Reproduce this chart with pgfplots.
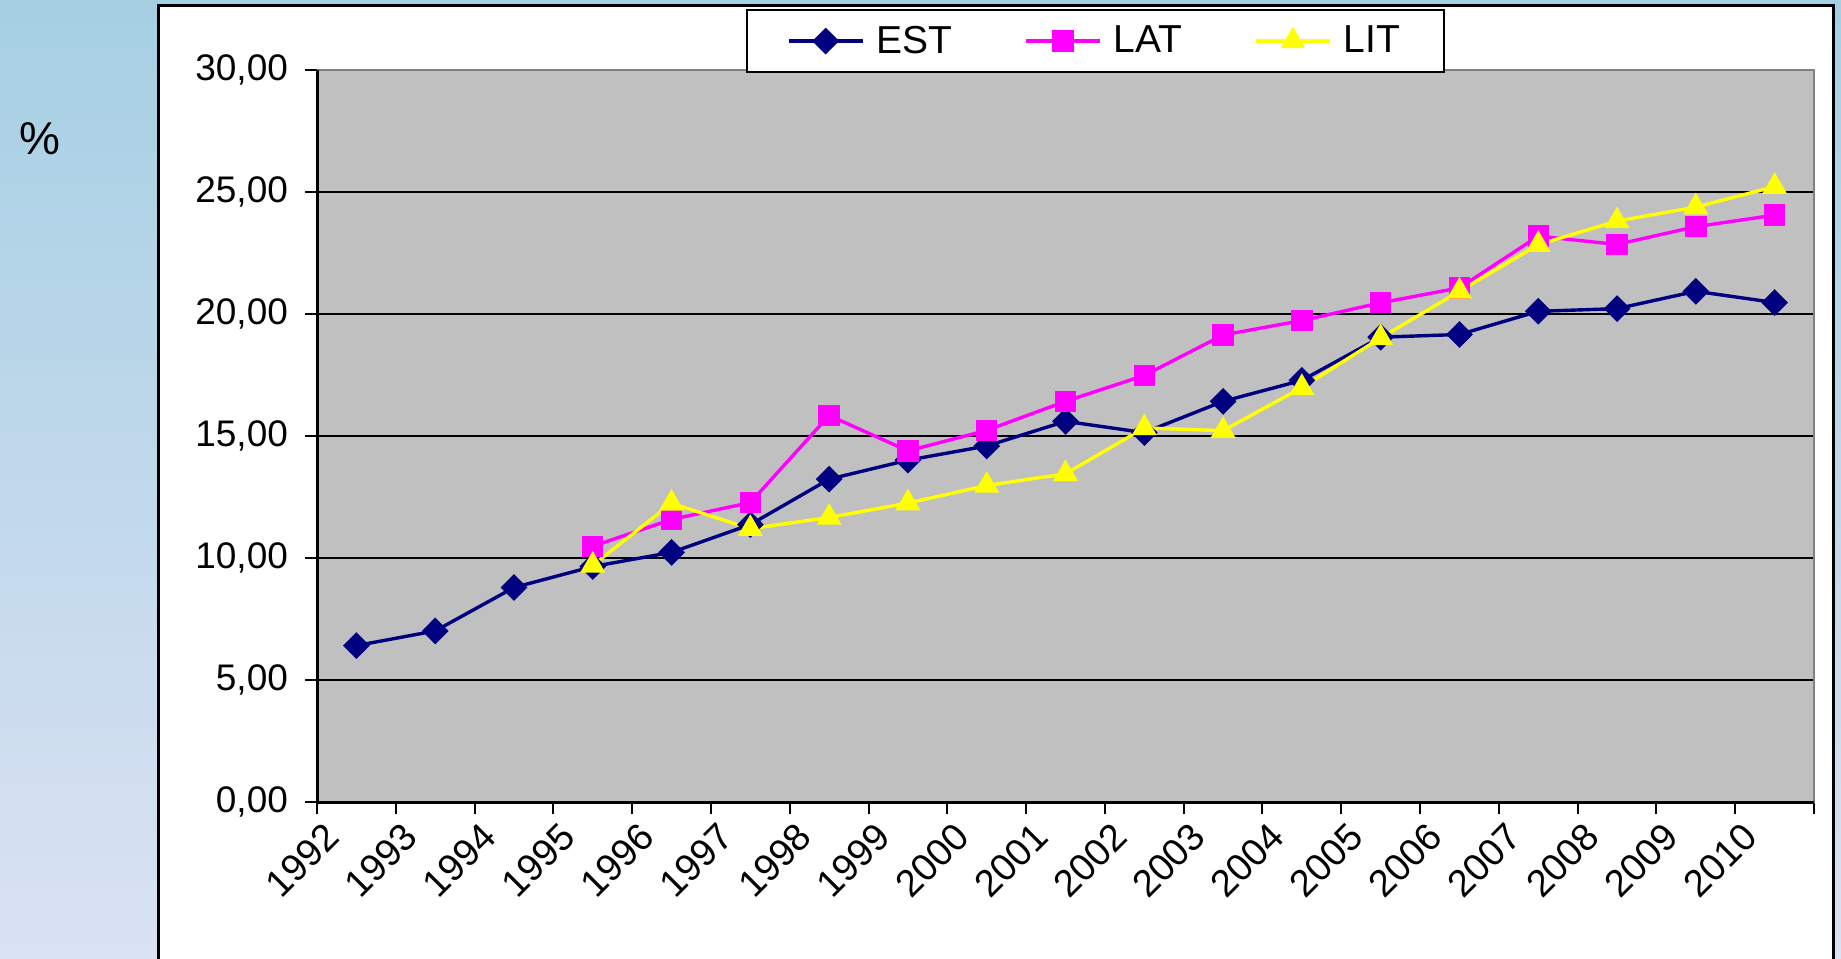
\documentclass[border=0pt]{standalone}
\usepackage{fontspec}
\setmainfont{Liberation Sans}
\usepackage{pgfplots}
\pgfplotsset{compat=1.18}
\definecolor{estblue}{HTML}{000080}
\definecolor{latpink}{HTML}{FF00FF}
\definecolor{lityellow}{HTML}{FFFF00}
\definecolor{plotgray}{HTML}{C0C0C0}
\definecolor{bordergray}{HTML}{808080}
\definecolor{bgtop}{HTML}{A6CFE3}
\definecolor{bgbottom}{HTML}{DAE2F3}

\begin{document}
\begin{tikzpicture}
\path[use as bounding box] (0pt,0pt) rectangle (920.5pt,479pt);
\shade[top color=bgtop, bottom color=bgbottom] (0pt,0pt) rectangle (920.5pt,479pt);
\draw[line width=1.5pt, fill=white] (79pt,-5pt) rectangle (916.5pt,476pt);
\node[font=\fontsize{23}{27}\selectfont] at (20pt,409.5pt) {\%};
\begin{axis}[
  at={(158.5pt,78pt)}, anchor=south west,
  scale only axis, width=748.5pt, height=366pt,
  xmin=-0.5, xmax=18.5, ymin=0, ymax=30,
  xtick={0,...,18},
  xticklabels={1992,1993,1994,1995,1996,1997,1998,1999,2000,2001,2002,2003,2004,2005,2006,2007,2008,2009,2010},
  minor xtick={-0.5,0.5,...,18.5},
  ytick={0,5,...,25},
  extra y ticks={30}, extra y tick style={grid=none},
  tick align=outside, tick pos=left,
  major tick length=6pt, minor tick length=6pt,
  major x tick style={draw=none},
  minor x tick style={black, line width=1pt},
  major y tick style={black, line width=1pt},
  ymajorgrids, grid style={black, line width=1.4pt},
  axis background/.style={fill=plotgray},
  axis line style={draw=bordergray, line width=1pt},
  extra description/.code={\draw[black, line width=1.5pt] (rel axis cs:0,1) -- (rel axis cs:0,0) -- (rel axis cs:1,0);},
  tick label style={font=\fontsize{18.5}{22}\selectfont},
  yticklabel style={xshift=-5pt},
  xticklabel style={font=\fontsize{19}{22}\selectfont, xshift=-17pt, yshift=-3pt, rotate=45, anchor=north east, inner sep=0pt},
  /pgf/number format/fixed,
  /pgf/number format/fixed zerofill,
  /pgf/number format/precision=2,
  /pgf/number format/use comma,
  /pgf/number format/assume math mode=true,
  legend columns=3,
  legend style={at={(0.52,1.0396)}, anchor=center, draw=black, line width=1pt, fill=white,
    font=\fontsize{19.5}{23}\selectfont,
    inner xsep=20pt, inner ysep=5pt,
    nodes={inner xsep=2pt, inner ysep=3pt},
    /tikz/every odd column/.append style={column sep=4pt},
    /tikz/every even column/.append style={column sep=34pt}},
  legend image code/.code={\draw[mark repeat=2,mark phase=2] plot coordinates {(0pt,0pt) (18.5pt,0pt) (37pt,0pt)};},
]
\addplot[estblue, line width=1.7pt, mark=diamond*, mark size=5.5pt, mark options={solid, fill=estblue, xscale=1.33}] coordinates {
(0,6.41) (1,7.01) (2,8.79) (3,9.65) (4,10.23) (5,11.37) (6,13.23) (7,14.01) (8,14.59) (9,15.60)
(10,15.14) (11,16.42) (12,17.28) (13,19.05) (14,19.16) (15,20.11) (16,20.22) (17,20.93) (18,20.47)};
\addlegendentry{EST}
\addplot[latpink, line width=1.7pt, mark=square*, mark size=4.5pt, mark options={solid, fill=latpink}] coordinates {
(3,10.48) (4,11.58) (5,12.27) (6,15.84) (7,14.39) (8,15.23) (9,16.42) (10,17.48) (11,19.14)
(12,19.73) (13,20.46) (14,21.07) (15,23.19) (16,22.85) (17,23.58) (18,24.05)};
\addlegendentry{LAT}
\addplot[lityellow, line width=1.7pt, mark=triangle*, mark size=5.5pt, mark options={solid, fill=lityellow}] coordinates {
(3,9.70) (4,12.24) (5,11.20) (6,11.66) (7,12.25) (8,12.97) (9,13.45) (10,15.33) (11,15.22)
(12,16.98) (13,19.02) (14,20.93) (15,22.84) (16,23.81) (17,24.38) (18,25.22)};
\addlegendentry{LIT}
\end{axis}
\end{tikzpicture}
\end{document}
